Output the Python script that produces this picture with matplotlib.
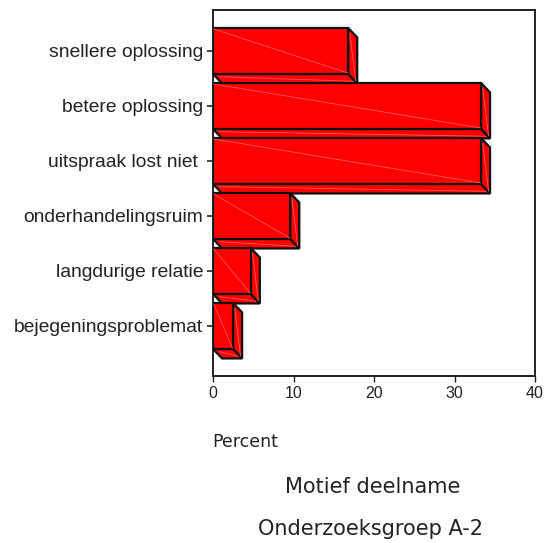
import matplotlib
matplotlib.use("Agg")
import matplotlib.pyplot as plt
from matplotlib.patches import Polygon

categories = [
    "snellere oplossing",
    "betere oplossing",
    "uitspraak lost niet ",
    "onderhandelingsruim",
    "langdurige relatie",
    "bejegeningsproblemat",
]
percent = [16.8, 33.3, 33.3, 9.6, 4.7, 2.5]
x_ticks = [0, 10, 20, 30, 40]

W, H = 553, 543
RED = "#ff0000"
EDGE = "#111111"
SHINE = "#ff5a5a"
BAR_H = 46 / 55
DX = 9 / 8.05
DY = 9.5 / 55


def draw_bar(ax, y, v):
    top, bot = y - BAR_H / 2, y + BAR_H / 2
    front = [(0, top), (v, top), (v, bot), (0, bot)]
    side = [(v, top), (v + DX, top + DY), (v + DX, bot + DY), (v, bot)]
    under = [(0, bot), (v, bot), (v + DX, bot + DY), (DX, bot + DY)]
    for pts in (under, side, front):
        ax.add_patch(Polygon(pts, closed=True, facecolor=RED, edgecolor=EDGE,
                             lw=1.6, joinstyle="miter", zorder=3))
    # faint diagonals left by the renderer
    ax.plot([0.1, v - 0.1], [top + 0.02, bot - 0.02], color=SHINE, lw=0.6, zorder=4)
    ax.plot([v + 0.2, v + DX - 0.2], [top + 0.1, bot + DY - 0.05], color=SHINE, lw=0.6, zorder=4)
    ax.plot([0.8, v + DX - 0.5], [bot + 0.05, bot + DY - 0.04], color=SHINE, lw=0.6, zorder=4)


fig = plt.figure(figsize=(W / 100, H / 100), dpi=100)
ax = fig.add_axes([213 / W, 1 - 376 / H, (535 - 213) / W, (376 - 10) / H])

for i, v in enumerate(percent):
    draw_bar(ax, i, v)

ax.set_xlim(0, 40)
ax.set_ylim(5.91, -0.745)
ax.set_xticks(x_ticks)
ax.set_yticks(range(len(categories)))
ax.set_yticklabels(categories, family="Liberation Sans", fontsize=13.9, color="#222222")
ax.tick_params(axis="y", length=4, width=1.2, pad=3, color="#222222")
ax.tick_params(axis="x", length=4, width=1.0, pad=3, color="#222222", labelsize=11.5)
for lab in ax.get_xticklabels():
    lab.set_family("Liberation Sans")
    lab.set_color("#222222")
for s in ax.spines.values():
    s.set_linewidth(1.4)
    s.set_color("#222222")

fig.text(212 / W, 1 - 442 / H, "Percent", family="DejaVu Sans", fontsize=12.5,
         va="center", ha="left", color="#222222")
fig.text(373 / W, 1 - 487 / H, "Motief deelname", family="DejaVu Sans", fontsize=15,
         va="center", ha="center", color="#222222")
fig.text(370 / W, 1 - 529 / H, "Onderzoeksgroep A-2", family="DejaVu Sans", fontsize=15,
         va="center", ha="center", color="#222222")

fig.savefig("out.png", dpi=100)
